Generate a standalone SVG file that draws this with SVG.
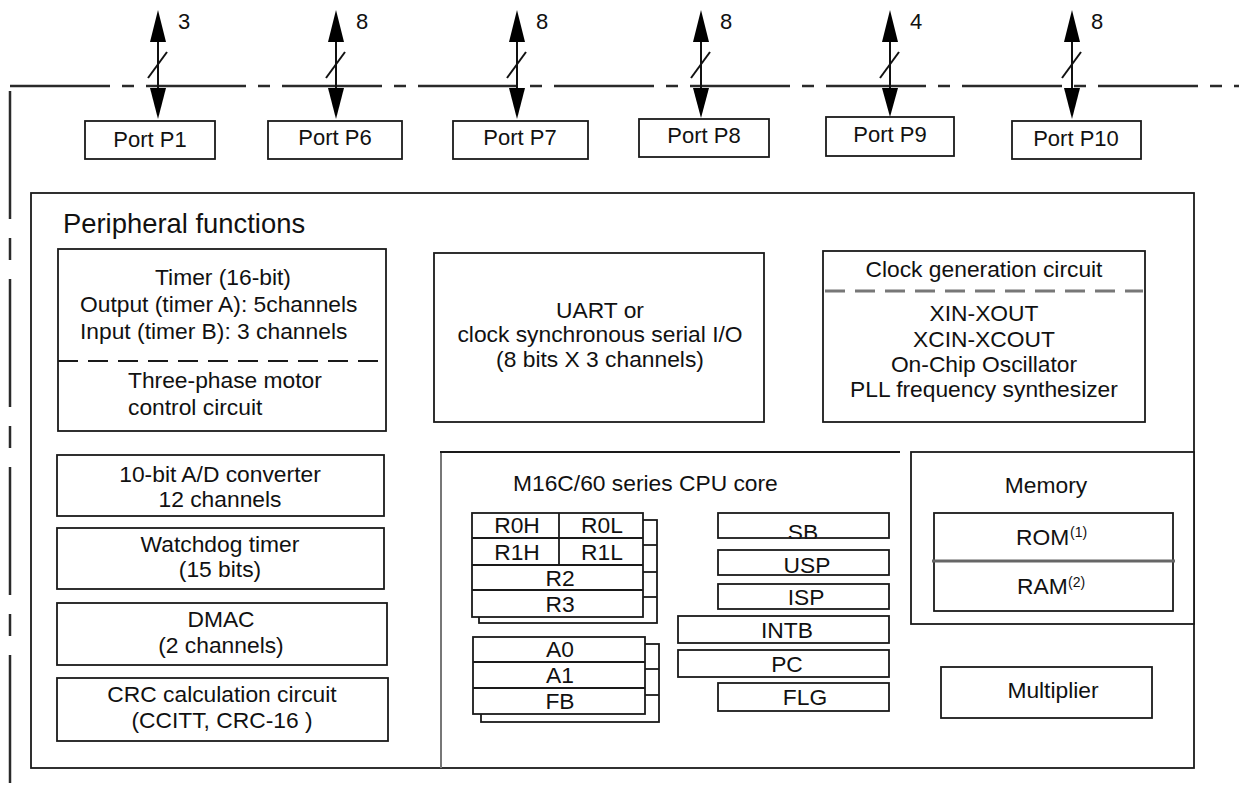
<svg xmlns="http://www.w3.org/2000/svg" width="1239" height="789" viewBox="0 0 1239 789">
<style>
text{font-family:"Liberation Sans",Arial,sans-serif;font-size:22.8px;fill:#111}
.c{text-anchor:middle}
.p{font-size:22px}
.b{fill:#fff;stroke:#1a1a1a;stroke-width:1.8}
.bn{fill:none;stroke:#1a1a1a;stroke-width:1.8}
.ln{stroke:#1a1a1a;stroke-width:1.8;fill:none}
.sup{font-size:14px}
.ah{fill:#000}
.bus{stroke:#111;stroke-width:2}
</style>
<defs>
<clipPath id="sbclip"><rect x="718" y="513" width="171" height="26"/></clipPath>
</defs>
<rect width="1239" height="789" fill="#fff"/>
<!-- chip boundary -->
<g id="boundary">
<line x1="10" y1="86" x2="1239" y2="86" stroke="#2a2a2a" stroke-width="2.5" stroke-dasharray="100 12 12 12"/>
<line x1="10" y1="91" x2="10" y2="789" stroke="#2a2a2a" stroke-width="2.5" stroke-dasharray="128 19 22 19"/>
</g>
<!-- connectors -->
<g id="connectors">
<g id="bus-p1"><line class="bus" x1="158" y1="38" x2="158" y2="92"/><polygon class="ah" points="158,10 150,42 166,42"/><polygon class="ah" points="150,88 166,88 158,119"/><line class="bus" x1="148" y1="78" x2="167" y2="52"/><text class="p" x="178" y="29">3</text></g>
<g id="bus-p6"><line class="bus" x1="336" y1="38" x2="336" y2="92"/><polygon class="ah" points="336,10 328,42 344,42"/><polygon class="ah" points="328,88 344,88 336,119"/><line class="bus" x1="326" y1="78" x2="345" y2="52"/><text class="p" x="356" y="29">8</text></g>
<g id="bus-p7"><line class="bus" x1="517" y1="38" x2="517" y2="92"/><polygon class="ah" points="517,10 509,42 525,42"/><polygon class="ah" points="509,88 525,88 517,119"/><line class="bus" x1="507" y1="78" x2="526" y2="52"/><text class="p" x="536" y="29">8</text></g>
<g id="bus-p8"><line class="bus" x1="701" y1="38" x2="701" y2="92"/><polygon class="ah" points="701,10 693,42 709,42"/><polygon class="ah" points="693,88 709,88 701,118"/><line class="bus" x1="691" y1="78" x2="710" y2="52"/><text class="p" x="720" y="29">8</text></g>
<g id="bus-p9"><line class="bus" x1="890" y1="38" x2="890" y2="92"/><polygon class="ah" points="890,10 882,42 898,42"/><polygon class="ah" points="882,88 898,88 890,117"/><line class="bus" x1="880" y1="78" x2="899" y2="52"/><text class="p" x="910" y="29">4</text></g>
<g id="bus-p10"><line class="bus" x1="1072" y1="38" x2="1072" y2="92"/><polygon class="ah" points="1072,10 1064,42 1080,42"/><polygon class="ah" points="1064,88 1080,88 1072,119"/><line class="bus" x1="1062" y1="78" x2="1081" y2="52"/><text class="p" x="1091" y="29">8</text></g>
</g>
<!-- ports -->
<g id="port-p1"><rect class="b" x="85" y="121" width="130" height="38"/><text class="c p" x="150" y="147">Port P1</text></g>
<g id="port-p6"><rect class="b" x="268" y="121" width="134" height="38"/><text class="c p" x="335" y="145">Port P6</text></g>
<g id="port-p7"><rect class="b" x="453" y="121" width="135" height="38"/><text class="c p" x="520" y="145">Port P7</text></g>
<g id="port-p8"><rect class="b" x="639" y="119" width="130" height="38"/><text class="c p" x="704" y="143">Port P8</text></g>
<g id="port-p9"><rect class="b" x="826" y="117" width="128" height="39"/><text class="c p" x="890" y="142">Port P9</text></g>
<g id="port-p10"><rect class="b" x="1012" y="121" width="129" height="38"/><text class="c p" x="1076" y="146">Port P10</text></g>
<!-- peripheral functions -->
<g id="peripheral">
<rect class="bn" x="31" y="193" width="1163" height="575"/>
<text x="63" y="233" style="font-size:27.4px">Peripheral functions</text>
</g>
<g id="timer">
<rect class="b" x="58" y="249" width="328" height="182"/>
<line x1="58" y1="361" x2="386" y2="361" stroke="#1a1a1a" stroke-width="2" stroke-dasharray="20 10"/>
<text class="c" x="223" y="285">Timer (16-bit)</text>
<text x="80" y="312">Output (timer A): 5channels</text>
<text x="80" y="339">Input (timer B): 3 channels</text>
<text x="128" y="388">Three-phase motor</text>
<text x="128" y="415">control circuit</text>
</g>
<g id="uart">
<rect class="b" x="434" y="253" width="330" height="169"/>
<text class="c" x="600" y="318">UART or</text>
<text class="c" x="600" y="342">clock synchronous serial I/O</text>
<text class="c" x="600" y="367">(8 bits X 3 channels)</text>
</g>
<g id="clock">
<rect class="b" x="823" y="251" width="322" height="171"/>
<line x1="825" y1="291" x2="1143" y2="291" stroke="#777" stroke-width="3" stroke-dasharray="20 10"/>
<text class="c" x="984" y="277">Clock generation circuit</text>
<text class="c" x="984" y="321">XIN-XOUT</text>
<text class="c" x="984" y="347">XCIN-XCOUT</text>
<text class="c" x="984" y="372">On-Chip Oscillator</text>
<text class="c" x="984" y="397">PLL frequency synthesizer</text>
</g>
<g id="adc">
<rect class="b" x="57" y="455" width="327" height="61"/>
<text class="c" x="220" y="482">10-bit A/D converter</text>
<text class="c" x="220" y="507">12 channels</text>
</g>
<g id="watchdog">
<rect class="b" x="57" y="528" width="327" height="61"/>
<text class="c" x="220" y="552">Watchdog timer</text>
<text class="c" x="220" y="577">(15 bits)</text>
</g>
<g id="dmac">
<rect class="b" x="57" y="603" width="330" height="62"/>
<text class="c" x="221" y="627">DMAC</text>
<text class="c" x="221" y="653">(2 channels)</text>
</g>
<g id="crc">
<rect class="b" x="57" y="678" width="331" height="63"/>
<text class="c" x="222" y="702">CRC calculation circuit</text>
<text class="c" x="222" y="728">(CCITT, CRC-16 )</text>
</g>
<!-- CPU core -->
<g id="cpu-core">
<line x1="441" y1="452" x2="441" y2="768" stroke="#777" stroke-width="2"/>
<line x1="440" y1="452" x2="900" y2="452" stroke="#1a1a1a" stroke-width="1.8"/>
<text x="513" y="491">M16C/60 series CPU core</text>
</g>
<g id="reg-r">
<rect class="b" x="479" y="520" width="178" height="103"/>
<line class="ln" x1="643" y1="545" x2="657" y2="545"/>
<line class="ln" x1="643" y1="572" x2="657" y2="572"/>
<line class="ln" x1="643" y1="597" x2="657" y2="597"/>
<rect class="b" x="472" y="513" width="171" height="104"/>
<line class="ln" x1="472" y1="538" x2="643" y2="538"/>
<line class="ln" x1="472" y1="565" x2="643" y2="565"/>
<line class="ln" x1="472" y1="590" x2="643" y2="590"/>
<line class="ln" x1="559" y1="513" x2="559" y2="565"/>
<text class="c" x="517" y="533">R0H</text>
<text class="c" x="602" y="533">R0L</text>
<text class="c" x="517" y="560">R1H</text>
<text class="c" x="602" y="560">R1L</text>
<text class="c" x="560" y="586">R2</text>
<text class="c" x="560" y="612">R3</text>
</g>
<g id="reg-a">
<rect class="b" x="481" y="644" width="178" height="78"/>
<line class="ln" x1="645" y1="669" x2="659" y2="669"/>
<line class="ln" x1="645" y1="695" x2="659" y2="695"/>
<rect class="b" x="473" y="637" width="172" height="77"/>
<line class="ln" x1="473" y1="662" x2="645" y2="662"/>
<line class="ln" x1="473" y1="688" x2="645" y2="688"/>
<text class="c" x="560" y="657">A0</text>
<text class="c" x="560" y="683">A1</text>
<text class="c" x="560" y="709">FB</text>
</g>
<g id="reg-sb"><text class="c" x="803" y="540" clip-path="url(#sbclip)">SB</text><rect class="bn" x="718" y="513" width="171" height="25"/></g>
<g id="reg-usp"><rect class="b" x="718" y="550" width="171" height="25"/><text class="c" x="807" y="573">USP</text></g>
<g id="reg-isp"><rect class="b" x="718" y="584" width="171" height="25"/><text class="c" x="806" y="605">ISP</text></g>
<g id="reg-intb"><rect class="b" x="678" y="616" width="211" height="27"/><text class="c" x="787" y="638">INTB</text></g>
<g id="reg-pc"><rect class="b" x="678" y="650" width="211" height="27"/><text class="c" x="787" y="672">PC</text></g>
<g id="reg-flg"><rect class="b" x="718" y="683" width="171" height="28"/><text class="c" x="805" y="705">FLG</text></g>
<!-- memory -->
<g id="memory">
<rect class="b" x="911" y="452" width="283" height="172"/>
<text class="c" x="1046" y="493">Memory</text>
<rect class="b" x="934" y="513" width="239" height="98"/>
<line x1="932" y1="561" x2="1175" y2="561" stroke="#666" stroke-width="3"/>
<text x="1016" y="545">ROM</text><text class="sup" x="1070" y="537">(1)</text>
<text x="1017" y="594">RAM</text><text class="sup" x="1068" y="587">(2)</text>
</g>
<g id="multiplier">
<rect class="b" x="941" y="667" width="211" height="51"/>
<text class="c" x="1053" y="698">Multiplier</text>
</g>
</svg>
